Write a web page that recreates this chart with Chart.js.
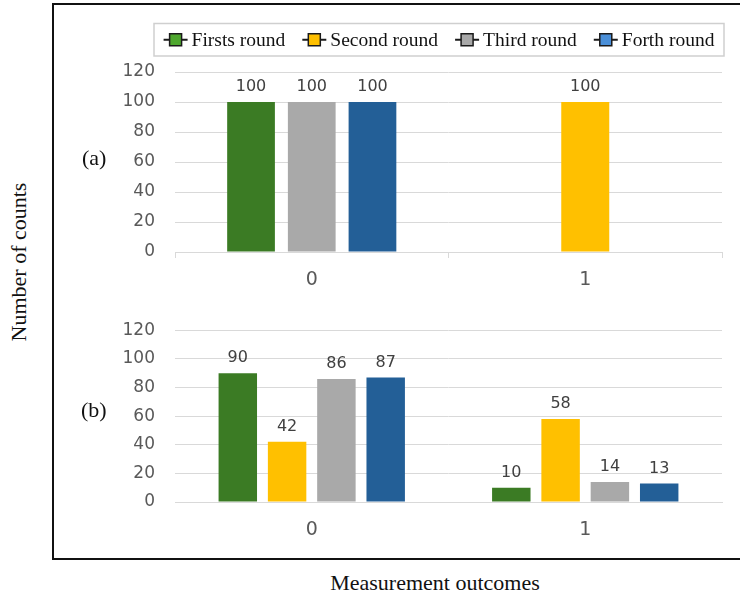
<!DOCTYPE html>
<html>
<head>
<meta charset="utf-8">
<script src="https://cdn.jsdelivr.net/npm/chart.js@4/dist/chart.umd.min.js"></script>
<style>
  html, body { margin: 0; padding: 0; background: #ffffff; }
  #page { position: relative; width: 740px; height: 602px; overflow: hidden; background: #ffffff; }
  #frame { position: absolute; left: 52px; top: 3px; width: 720px; height: 553px; border: 2px solid #111111; }
  canvas { position: absolute; }
  #panelA { left: 60px; top: 8px; }
  #panelB { left: 60px; top: 300px; }
  .serif { position: absolute; font-family: "Liberation Serif", "Times New Roman", serif; font-size: 22px; color: #111111; white-space: nowrap; line-height: 1; }
  #tagA { left: 82px; top: 147px; }
  #tagB { left: 81px; top: 399px; }
  #yTitle { left: 19px; top: 262px; transform: translate(-50%, -50%) rotate(-90deg); }
  #xTitle { left: 435px; top: 583px; transform: translate(-50%, -50%); }
</style>
</head>
<body>
<div id="page">
  <div id="frame"></div>
  <canvas id="panelA" width="680" height="292"></canvas>
  <canvas id="panelB" width="680" height="255"></canvas>
  <div class="serif" id="tagA">(a)</div>
  <div class="serif" id="tagB">(b)</div>
  <div class="serif" id="yTitle">Number of counts</div>
  <div class="serif" id="xTitle">Measurement outcomes</div>
</div>
<script>
// Measurement outcomes on the category axis
const outcomes = ['0', '1'];
const roundNames = ['Firsts round', 'Second round', 'Third round', 'Forth round'];

// Panel (a): counts per round (null = no bar for that outcome)
const firstA  = [100, null];
const secondA = [null, 100];
const thirdA  = [100, null];
const forthA  = [100, null];

// Panel (b): counts per round
const firstB  = [90, 10];
const secondB = [42, 58];
const thirdB  = [86, 14];
const forthB  = [87, 13];

// Value axis
const yMin = 0;
const yMax = 120;
const yStep = 20;

// Styling
const barColors = ['#3b7b24', '#ffc000', '#a9a9a9', '#235f97'];
const keyColors = ['#4ea72e', '#ffc000', '#a8a8a8', '#4a8fd8'];
const gridColor = '#d9d9d9';
const tickColor = '#595959';
const numberFont = '"DejaVu Sans", "Liberation Sans", sans-serif';

// Value labels above each bar
const valueLabels = {
  id: 'valueLabels',
  afterDatasetsDraw(chart) {
    const ctx = chart.ctx;
    ctx.save();
    ctx.font = '16px ' + numberFont;
    ctx.fillStyle = '#404040';
    ctx.textAlign = 'center';
    ctx.textBaseline = 'middle';
    chart.data.datasets.forEach((ds, di) => {
      const meta = chart.getDatasetMeta(di);
      meta.data.forEach((bar, i) => {
        const v = ds.data[i];
        if (v === null || v === undefined) return;
        ctx.fillText(String(v), bar.x, bar.y - 15);
      });
    });
    ctx.restore();
  }
};

// Boxed legend with line-and-square keys
const roundKey = {
  id: 'roundKey',
  afterDraw(chart) {
    const ctx = chart.ctx;
    const box = { left: 94, top: 15.5, right: 664, bottom: 48 };
    const midY = (box.top + box.bottom) / 2;
    const lineLen = 24, textGap = 4, itemGap = 17;
    ctx.save();
    ctx.strokeStyle = '#cfcfcf';
    ctx.lineWidth = 1.5;
    ctx.strokeRect(box.left, box.top, box.right - box.left, box.bottom - box.top);
    ctx.font = '19.5px "Liberation Serif", "Times New Roman", serif';
    const items = chart.data.datasets.map((ds, i) => ({
      label: ds.label,
      color: keyColors[i],
      w: ctx.measureText(ds.label).width
    }));
    let total = 0;
    items.forEach((it, i) => { total += lineLen + textGap + it.w + (i ? itemGap : 0); });
    let x = (box.left + box.right) / 2 - total / 2;
    items.forEach((it) => {
      ctx.strokeStyle = '#1a1a1a';
      ctx.lineWidth = 2;
      ctx.beginPath();
      ctx.moveTo(x, midY);
      ctx.lineTo(x + lineLen, midY);
      ctx.stroke();
      ctx.fillStyle = it.color;
      ctx.fillRect(x + lineLen / 2 - 6, midY - 6, 12, 12);
      ctx.lineWidth = 1.5;
      ctx.strokeRect(x + lineLen / 2 - 6, midY - 6, 12, 12);
      ctx.fillStyle = '#111111';
      ctx.textAlign = 'left';
      ctx.textBaseline = 'middle';
      ctx.fillText(it.label, x + lineLen + textGap, midY + 1);
      x += lineLen + textGap + it.w + itemGap;
    });
    ctx.restore();
  }
};

function makeDatasets(seriesList, catPct, barPct, maxThick) {
  return seriesList.map((values, i) => ({
    label: roundNames[i],
    data: values,
    backgroundColor: barColors[i],
    borderWidth: 0,
    categoryPercentage: catPct,
    barPercentage: barPct,
    maxBarThickness: maxThick
  }));
}

function makePanel(canvasId, datasets, cfg) {
  return new Chart(document.getElementById(canvasId), {
    type: 'bar',
    data: { labels: outcomes, datasets: datasets },
    options: {
      responsive: false,
      animation: false,
      skipNull: cfg.skipNull,
      layout: { padding: { left: 0, right: 18, top: cfg.padTop, bottom: 8 } },
      plugins: { legend: { display: false }, tooltip: { enabled: false } },
      scales: {
        x: {
          offset: true,
          grid: {
            display: cfg.xTicks,
            drawOnChartArea: false,
            drawTicks: cfg.xTicks,
            tickLength: 6,
            color: gridColor
          },
          border: { display: true, color: gridColor, width: 1 },
          ticks: {
            color: tickColor,
            padding: cfg.xTicks ? 11 : 17,
            font: { family: numberFont, size: 19 }
          },
          afterFit(scale) { scale.height = cfg.xHeight; }
        },
        y: {
          min: yMin,
          max: yMax,
          ticks: {
            stepSize: yStep,
            color: tickColor,
            padding: 20,
            font: { family: numberFont, size: 17 }
          },
          grid: { color: gridColor, drawTicks: false, lineWidth: 1 },
          border: { display: false },
          afterFit(scale) { scale.width = 115; }
        }
      }
    },
    plugins: cfg.plugins
  });
}

makePanel('panelA',
  makeDatasets([firstA, secondA, thirdA, forthA], 0.666, 0.786, 48),
  { skipNull: true, padTop: 64, xHeight: 40, xTicks: true, plugins: [valueLabels, roundKey] });

makePanel('panelB',
  makeDatasets([firstB, secondB, thirdB, forthB], 0.721, 0.78, 39),
  { skipNull: false, padTop: 22, xHeight: 45, xTicks: false, plugins: [valueLabels] });
</script>
</body>
</html>
